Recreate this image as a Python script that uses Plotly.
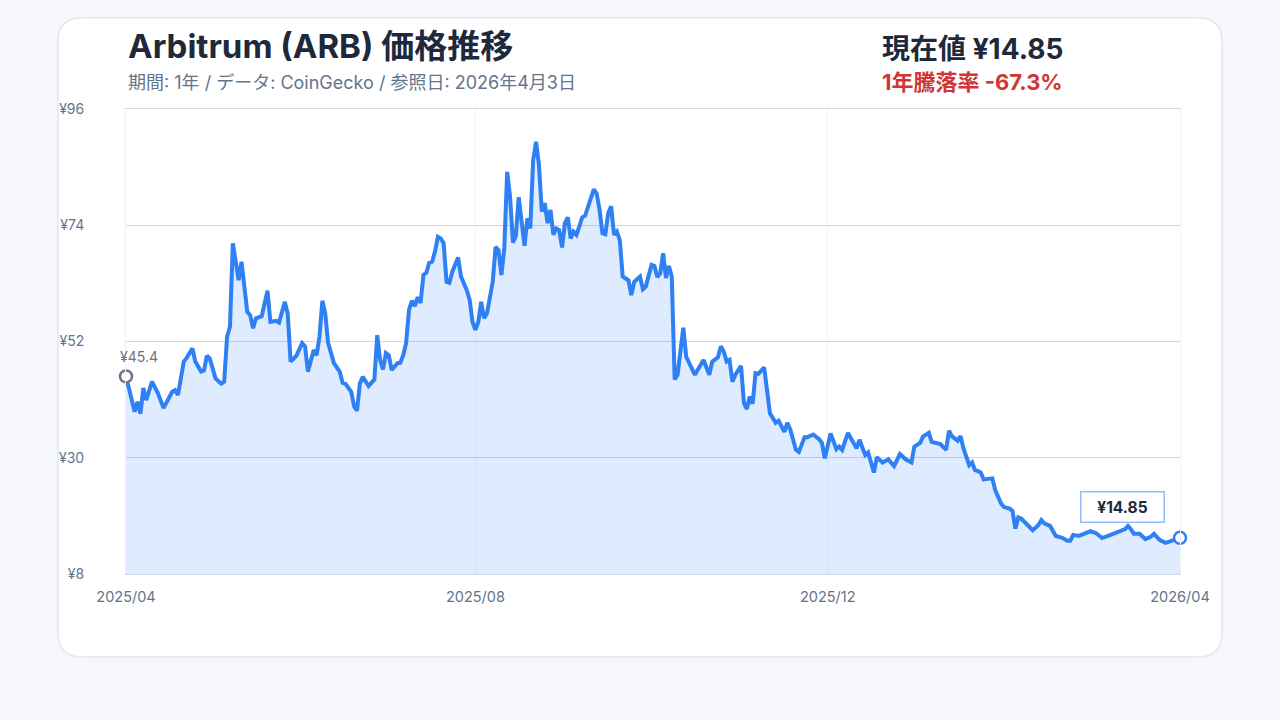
import pandas as pd
import plotly.graph_objects as go

# ---------------- data ----------------
start_date = "2025-04-03"
days = [
    0, 3, 4, 5, 6, 7, 9, 11, 13, 16,
    17, 18, 20, 21, 23, 24, 26, 27, 28, 29,
    31, 33, 34, 35, 36, 37, 39, 40, 42, 43,
    44, 45, 47, 49, 50, 52, 53, 55, 56, 57,
    59, 61, 62, 63, 65, 66, 67, 68, 69, 70,
    72, 74, 75, 76, 78, 79, 80, 81, 82, 84,
    86, 87, 88, 89, 90, 91, 92, 94, 95, 96,
    97, 98, 99, 100, 101, 102, 103, 104, 105, 106,
    107, 108, 109, 110, 111, 112, 113, 114, 115, 116,
    117, 118, 119, 120, 121, 122, 123, 124, 125, 126,
    127, 128, 129, 130, 131, 132, 133, 134, 135, 136,
    137, 138, 139, 140, 141, 142, 143, 144, 145, 146,
    147, 148, 149, 150, 151, 152, 153, 154, 155, 156,
    158, 159, 160, 162, 163, 164, 165, 166, 167, 168,
    169, 170, 171, 172, 174, 175, 176, 178, 179, 180,
    182, 183, 184, 185, 186, 187, 188, 189, 190, 191,
    193, 194, 197, 200, 202, 203, 205, 206, 207, 208,
    209, 210, 211, 213, 214, 215, 216, 217, 218, 219,
    221, 222, 223, 225, 226, 228, 229, 230, 232, 233,
    235, 236, 238, 240, 241, 242, 244, 246, 247, 248,
    250, 253, 254, 256, 257, 259, 260, 262, 264, 266,
    268, 270, 272, 273, 275, 276, 278, 279, 282, 284,
    285, 286, 288, 289, 290, 292, 293, 294, 296, 297,
    299, 300, 301, 303, 304, 306, 307, 308, 309, 310,
    314, 316, 317, 318, 320, 322, 324, 326, 327, 328,
    330, 332, 334, 336, 338, 341, 344, 346, 347, 348,
    349, 351, 353, 355, 356, 358, 360, 362, 363, 365,
]
prices = [
    45.4, 38.7, 40.6, 38.3, 43.2, 40.9, 44.4, 42.3, 39.4, 42.5,
    42.8, 41.9, 48.2, 48.9, 50.7, 48.2, 46.3, 46.5, 49.3, 48.8,
    45.0, 44.0, 44.4, 52.9, 54.8, 70.6, 63.6, 67.1, 57.6, 57.0,
    54.5, 56.4, 56.8, 61.6, 55.7, 55.9, 55.6, 59.5, 57.3, 48.2,
    49.3, 51.7, 51.1, 46.3, 50.4, 49.4, 52.9, 59.7, 57.3, 51.7,
    47.9, 46.3, 44.2, 44.0, 42.5, 39.7, 38.9, 44.1, 45.3, 43.6,
    44.8, 53.2, 48.5, 46.7, 49.8, 49.4, 46.6, 47.9, 48.0, 49.4,
    51.7, 58.0, 59.7, 58.7, 60.4, 59.3, 64.6, 65.0, 66.9, 67.1,
    69.0, 71.8, 71.5, 70.6, 63.3, 63.1, 65.2, 66.5, 67.9, 64.3,
    63.1, 61.7, 59.9, 55.7, 54.2, 55.7, 59.5, 56.4, 57.3, 60.5,
    63.3, 69.9, 69.3, 64.6, 69.6, 84.1, 79.4, 70.7, 72.0, 79.3,
    75.3, 70.1, 75.3, 73.4, 86.3, 89.8, 85.4, 76.6, 78.2, 74.4,
    76.9, 72.2, 73.4, 73.1, 69.8, 74.4, 75.5, 71.5, 72.8, 72.2,
    75.5, 75.8, 77.5, 80.8, 80.0, 76.9, 72.5, 72.3, 76.3, 77.6,
    72.2, 72.8, 71.2, 64.3, 63.6, 60.8, 63.3, 64.3, 61.9, 62.4,
    66.5, 66.3, 64.2, 64.9, 68.7, 64.0, 66.3, 64.3, 44.8, 45.7,
    54.6, 49.1, 45.7, 48.5, 45.7, 48.2, 49.0, 51.1, 50.1, 48.2,
    48.5, 44.4, 45.7, 47.4, 40.3, 39.2, 41.6, 40.2, 46.0, 45.9,
    47.1, 42.2, 38.4, 36.6, 37.0, 34.9, 36.6, 35.4, 31.5, 31.1,
    33.9, 33.9, 34.4, 33.5, 32.8, 29.9, 34.6, 31.6, 32.1, 31.5,
    34.7, 31.8, 33.4, 30.5, 31.0, 27.2, 30.1, 29.1, 29.7, 28.4,
    30.7, 29.7, 29.1, 32.1, 32.8, 34.0, 34.7, 33.0, 32.6, 31.5,
    35.1, 34.1, 33.2, 34.1, 31.8, 28.6, 29.1, 27.7, 27.2, 25.9,
    26.1, 26.1, 23.9, 21.4, 20.7, 20.4, 19.9, 16.6, 18.7, 18.5,
    16.3, 17.3, 18.2, 17.6, 17.1, 15.2, 14.9, 14.3, 14.3, 15.4,
    15.2, 15.7, 16.1, 15.7, 14.8, 15.4, 16.1, 16.5, 17.1, 16.5,
    15.6, 15.6, 14.6, 15.1, 15.6, 14.4, 13.9, 14.3, 14.4, 14.85,
]
y_ticks = [8, 30, 52, 74, 96]
y_tick_labels = ["¥8", "¥30", "¥52", "¥74", "¥96"]
x_tick_dates = ["2025-04-03", "2025-08-02", "2025-12-02", "2026-04-03"]
x_tick_labels = ["2025/04", "2025/08", "2025/12", "2026/04"]

title_text = "Arbitrum (ARB) 価格推移"
subtitle_text = "期間: 1年 / データ: CoinGecko / 参照日: 2026年4月3日"
current_text = "現在値 ¥14.85"
change_text = "1年騰落率 -67.3%"
start_label = "¥45.4"
end_label = "¥14.85"

# ---------------- figure ----------------
dates = pd.Timestamp(start_date) + pd.to_timedelta(days, unit="D")

FONT = "Inter, 'Noto Sans CJK JP', 'Noto Sans', sans-serif"
BLUE = "#2f7ff5"
PAGE_BG = "#f5f7fb"

fig = go.Figure()
fig.add_trace(go.Scatter(
    x=dates, y=prices, mode="lines",
    line=dict(color=BLUE, width=4, shape="linear"),
    fill="tozeroy", fillcolor="rgba(59,130,246,0.16)",
    hoverinfo="skip", showlegend=False,
))
fig.add_trace(go.Scatter(
    x=[dates[0]], y=[prices[0]], mode="markers",
    marker=dict(size=12, color="white", line=dict(color="#6b7280", width=2.5)),
    hoverinfo="skip", showlegend=False, cliponaxis=False,
))
fig.add_trace(go.Scatter(
    x=[dates[-1]], y=[prices[-1]], mode="markers",
    marker=dict(size=12, color="white", line=dict(color=BLUE, width=2.5)),
    hoverinfo="skip", showlegend=False, cliponaxis=False,
))

# card (rounded rectangle) in paper coords
x0, x1, y0, y1 = -0.0645, 1.0398, -0.1785, 1.1957
rx, ry = 0.0228, 0.0516
card_path = (
    f"M {x0+rx},{y0} L {x1-rx},{y0} Q {x1},{y0} {x1},{y0+ry} "
    f"L {x1},{y1-ry} Q {x1},{y1} {x1-rx},{y1} L {x0+rx},{y1} "
    f"Q {x0},{y1} {x0},{y1-ry} L {x0},{y0+ry} Q {x0},{y0} {x0+rx},{y0} Z"
)

fig.update_layout(
    width=1280, height=720,
    margin=dict(l=126, r=100, t=109, b=146),
    paper_bgcolor=PAGE_BG, plot_bgcolor="white",
    font=dict(family=FONT, color="#64748b", size=14),
    shapes=[dict(type="path", path=card_path, xref="paper", yref="paper",
                 fillcolor="white", line=dict(color="#e2e8f0", width=1.5),
                 layer="below")],
    xaxis=dict(
        type="date", range=[dates[0], dates[-1]],
        tickvals=x_tick_dates, ticktext=x_tick_labels,
        showgrid=True, gridcolor="#eef2f7", gridwidth=1,
        zeroline=False, showline=True, mirror=True,
        linecolor="#d3dbe7", linewidth=1, ticks="",
        tickfont=dict(size=14.5, color="#64748b"),
        ticklabelstandoff=10, fixedrange=True,
    ),
    yaxis=dict(
        range=[8, 96], tickvals=y_ticks, ticktext=y_tick_labels,
        showgrid=True, gridcolor="#cfd8e6", gridwidth=1,
        zeroline=False, showline=True, mirror=True,
        linecolor="#eef2f7", linewidth=1, ticks="",
        tickfont=dict(size=14, color="#64748b"),
        ticklabelstandoff=38, fixedrange=True,
    ),
    annotations=[
        dict(text=f"<b>{title_text}</b>", xref="paper", yref="paper",
             x=0, y=1.1355, xanchor="left", yanchor="middle", showarrow=False,
             font=dict(size=33, color="#1e293b", family=FONT)),
        dict(text=subtitle_text, xref="paper", yref="paper",
             x=0, y=1.056, xanchor="left", yanchor="middle", showarrow=False,
             font=dict(size=18, color="#64748b", family=FONT)),
        dict(text=f"<b>{current_text}</b>", xref="paper", yref="paper",
             x=0.7154, y=1.129, xanchor="left", yanchor="middle", showarrow=False,
             font=dict(size=28, color="#1e293b", family=FONT)),
        dict(text=f"<b>{change_text}</b>", xref="paper", yref="paper",
             x=0.7154, y=1.059, xanchor="left", yanchor="middle", showarrow=False,
             font=dict(size=22, color="#cf3636", family=FONT)),
        dict(text=start_label, x=dates[0], y=prices[0], xref="x", yref="y",
             xanchor="left", yanchor="middle", xshift=-8, yshift=20,
             showarrow=False, font=dict(size=14, color="#6b7280", family=FONT)),
        dict(text=f"<b>{end_label}</b>", x=dates[-1], y=prices[-1],
             xref="x", yref="y", showarrow=True, ax=-58, ay=-31,
             arrowcolor="rgba(0,0,0,0)", arrowwidth=0.1,
             bgcolor="white", bordercolor="#93bdfb", borderwidth=1.5,
             borderpad=5, width=72, align="center",
             font=dict(size=15.5, color="#1e293b", family=FONT)),
    ],
)

fig.write_html(
    "out.html",
    config={"displayModeBar": False},
    post_script=(
        "document.body.style.margin='0';"
        f"document.body.style.background='{PAGE_BG}';"
    ),
)
